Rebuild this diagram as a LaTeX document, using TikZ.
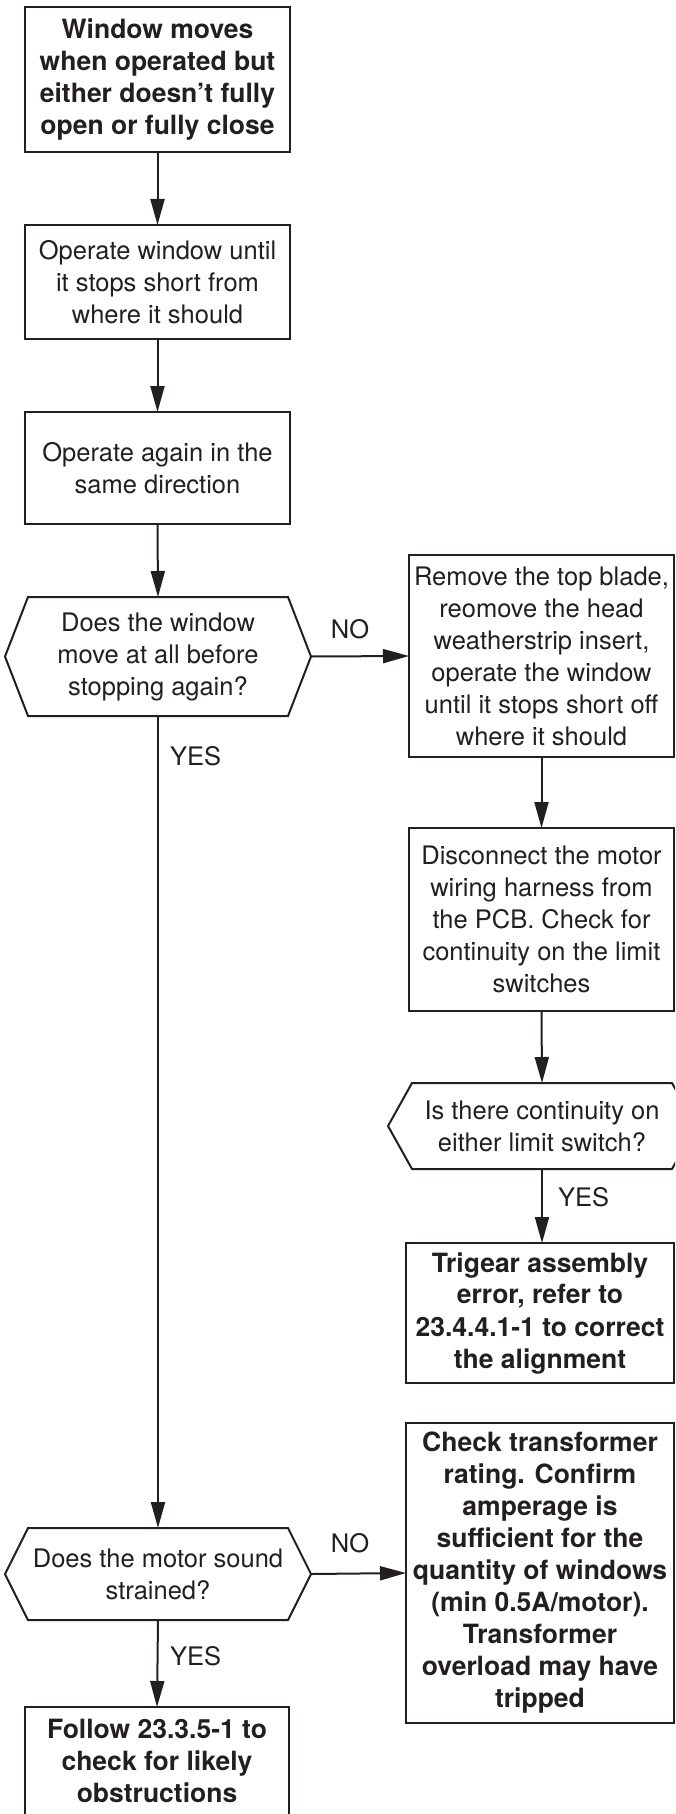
\documentclass[tikz,border=0pt]{standalone}
\usepackage{fontspec}
\setmainfont{TeX Gyre Heros}
\usetikzlibrary{arrows.meta}
\definecolor{ink}{HTML}{231F20}
\newcommand{\hexdraw}[2]{\draw[shapeline] (#1.west) -- ([xshift=#2pt]#1.north west) -- ([xshift=-#2pt]#1.north east) -- (#1.east) -- ([xshift=-#2pt]#1.south east) -- ([xshift=#2pt]#1.south west) -- cycle;}
\tikzset{
  regfont/.style={font=\fontsize{25.5}{32}\selectfont},
  boldfont/.style={font=\fontsize{26.5}{32}\selectfont\bfseries},
  box/.style={draw=ink, line width=2pt, rectangle, inner sep=0pt, outer sep=0pt, align=center, text=ink, regfont},
  boldbox/.style={box, boldfont},
  decnode/.style={rectangle, inner sep=0pt, outer sep=0pt, align=center, text=ink, regfont},
  shapeline/.style={draw=ink, line width=2pt, line join=miter},
  flow/.style={draw=ink, line width=2pt, -{Triangle[length=26pt,width=14pt]}},
  lbl/.style={text=ink, regfont, inner sep=0pt, anchor=west}
}
\begin{document}
\begin{tikzpicture}[x=1pt,y=-1pt]
\useasboundingbox (0,0) rectangle (675,1814);
\clip (0,0) rectangle (675,1814);
\fill[white] (0,0) rectangle (675,1814);

% left column
\node[boldbox, minimum width=265pt, minimum height=145pt] (n1) at (157.5,79.5)
  {Window moves\\when operated but\\either doesn’t fully\\open or fully close};
\node[box, minimum width=265pt, minimum height=114pt] (n2) at (157.5,282)
  {Operate window until\\it stops short from\\where it should};
\node[box, minimum width=265pt, minimum height=112pt] (n3) at (157.5,468)
  {Operate again in the\\same direction};
\node[decnode, minimum width=306pt, minimum height=119pt] (d1) at (158,656.5)
  {Does the window\\move at all before\\stopping again?};
\hexdraw{d1}{23}
\node[decnode, minimum width=306pt, minimum height=92pt] (d3) at (158,1574)
  {Does the motor sound\\strained?};
\hexdraw{d3}{23}
\node[boldbox, minimum width=264pt, minimum height=108pt] (f) at (157,1761)
  {Follow 23.3.5-1 to\\check for likely\\obstructions};

% right column
\node[box, minimum width=265pt, minimum height=202pt] (r1) at (541.5,656)
  {Remove the top blade,\\reomove the head\\weatherstrip insert,\\operate the window\\until it stops short off\\where it should};
\node[box, minimum width=265pt, minimum height=183pt] (r2) at (541.5,919.5)
  {Disconnect the motor\\wiring harness from\\the PCB. Check for\\continuity on the limit\\switches};
\node[decnode, minimum width=308pt, minimum height=86pt] (d2) at (542,1126)
  {Is there continuity on\\either limit switch?};
\hexdraw{d2}{24}
\node[boldbox, minimum width=268pt, minimum height=140pt] (r3) at (540,1313)
  {Trigear assembly\\error, refer to\\23.4.4.1-1 to correct\\the alignment};
\node[boldbox, minimum width=268pt, minimum height=300pt] (r4) at (540,1573)
  {Check transformer\\rating. Confirm\\amperage is\\sufficient for the\\quantity of windows\\(min 0.5A/motor).\\Transformer\\overload may have\\tripped};

% connectors
\draw[flow] (n1.south) -- (n2.north);
\draw[flow] (n2.south) -- (n3.north);
\draw[flow] (n3.south) -- (d1.north);
\draw[flow] (d1.east) -- (r1.west);
\draw[flow] (r1.south) -- (r2.north);
\draw[flow] (r2.south) -- (d2.north);
\draw[flow] (d2.south) -- (d2.south |- r3.north);
\draw[flow] (d1.south) -- (d3.north);
\draw[flow] (d3.east) -- (r4.west);
\draw[flow] (d3.south) -- (f.north);

% labels
\node[lbl, anchor=center] (no1) at (350,629) {NO};
\node[lbl, anchor=center] (no2) at (350,1543) {NO};
\node[lbl] (yes1) at (170,756) {YES};
\node[lbl] (yes2) at (558,1197) {YES};
\node[lbl] (yes3) at (170,1656) {YES};
\end{tikzpicture}
\end{document}
